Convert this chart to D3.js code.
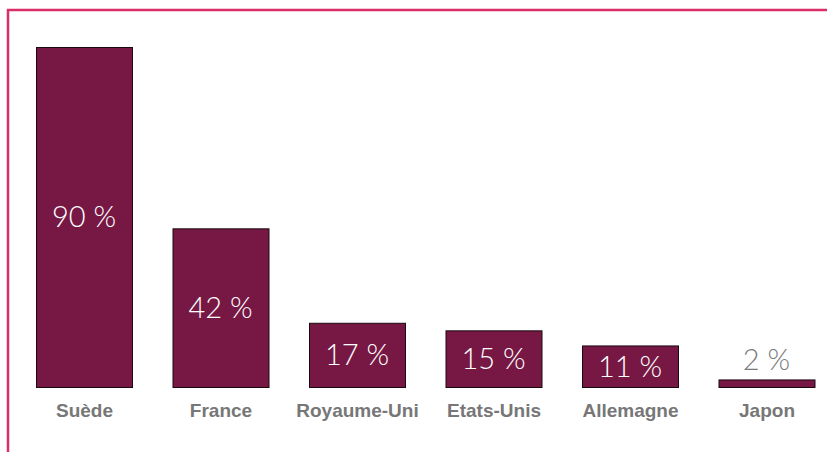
<!DOCTYPE html>
<html><head><meta charset="utf-8">
<script src="https://cdn.jsdelivr.net/npm/d3@7"></script>
<style>body{margin:0;background:#fff}svg{display:block}</style>
</head><body>
<svg id="c" width="827" height="452"></svg>
<script>
const categories = ["Suède","France","Royaume-Uni","Etats-Unis","Allemagne","Japon"];
const values = [90,42,17,15,11,2];
const valueLabels = ["90 %","42 %","17 %","15 %","11 %","2 %"];

const svg = d3.select("#c");
// frame
svg.append("path").attr("d","M8,452 V10 H827").attr("fill","none").attr("stroke","#d92e66").attr("stroke-width",2.5);

const x = d3.scaleBand().domain(categories).range([36, 814.5]).paddingInner(0.2967).paddingOuter(0);
const y = d3.scaleLinear().domain([0,90]).range([387,47]);

const g = svg.append("g");
g.selectAll("rect").data(values).join("rect")
  .attr("x",(d,i)=>x(categories[i])+0.5)
  .attr("y",d=>y(d)+0.5)
  .attr("width",x.bandwidth())
  .attr("height",d=>y(0)-y(d))
  .attr("fill","#761843").attr("stroke","#1a0a10").attr("stroke-width",1);

g.selectAll("text.v").data(values).join("text").attr("class","v")
  .attr("x",(d,i)=>x(categories[i])+x.bandwidth()/2)
  .attr("y",d=> (y(0)-y(d))>40 ? (y(d)+y(0))/2 : y(d)-9)
  .attr("dy",d=> (y(0)-y(d))>40 ? "0.36em" : "0")
  .attr("text-anchor","middle")
  .attr("font-family","Lato, sans-serif").attr("font-weight",300)
  .attr("font-size",29)
  .attr("fill",d=> (y(0)-y(d))>40 ? "#fff" : "#7a7a7a")
  .text((d,i)=>valueLabels[i]);

const xAxis = d3.axisBottom(x).tickSize(0).tickPadding(17);
const ax = svg.append("g").attr("transform","translate(0.5,387)").call(xAxis);
ax.select(".domain").remove();
ax.selectAll("text").attr("font-family","'Liberation Sans', Arial, sans-serif").attr("font-weight","bold")
  .attr("font-size",19).attr("fill","#777");
</script>
</body></html>
